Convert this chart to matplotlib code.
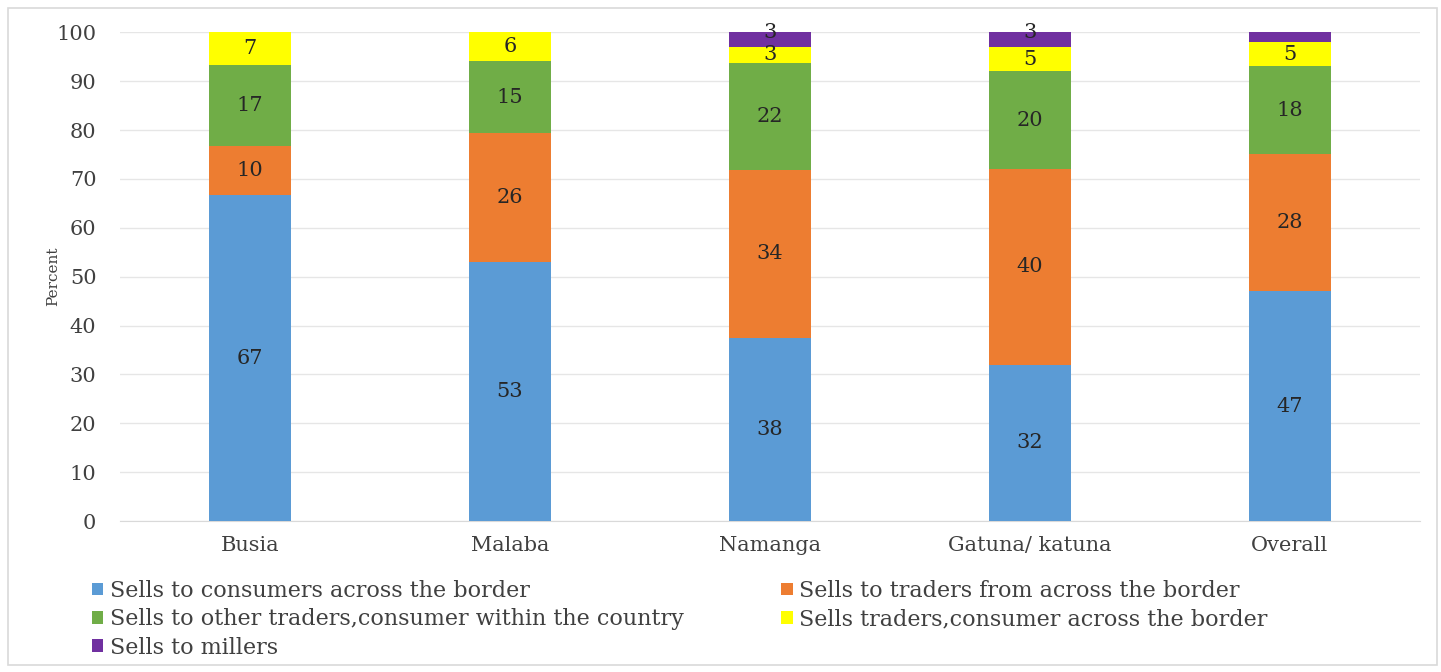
import matplotlib.pyplot as plt
import matplotlib.patches as mpatches
import numpy as np

plt.rcParams["font.family"] = ["DejaVu Serif"]

categories = ["Busia", "Malaba", "Namanga", "Gatuna/ katuna", "Overall"]

consumers_across = [66.7, 52.9, 37.5, 32, 47]
traders_from_across = [10, 26.5, 34.4, 40, 28]
within_country = [16.7, 14.7, 21.9, 20, 18]
traders_consumer_across = [6.7, 5.9, 3.1, 5, 5]
millers = [0, 0, 3.1, 3, 2]

series = [
    ("Sells to consumers across the border", consumers_across, "#5B9BD5"),
    ("Sells to traders from across the border", traders_from_across, "#ED7D31"),
    ("Sells to other traders,consumer within the country", within_country, "#70AD47"),
    ("Sells traders,consumer across the border", traders_consumer_across, "#FFFF00"),
    ("Sells to millers", millers, "#7030A0"),
]

fig = plt.figure(figsize=(14.41, 6.72), dpi=100)
ax = fig.add_axes([0.0833, 0.2247, 0.9021, 0.7273])

# light frame around the whole chart
fig.patches.append(mpatches.Rectangle((8 / 1441, 7 / 672), 1429 / 1441, 657 / 672,
                                      transform=fig.transFigure, fill=False,
                                      edgecolor="#d9d9d9", linewidth=1.2))

x = np.arange(len(categories))
bottom = np.zeros(len(categories))
handles = {}
for k, (name, vals, color) in enumerate(series):
    vals = np.array(vals, dtype=float)
    bars = ax.bar(x, vals, width=0.315, bottom=bottom, color=color, label=name, zorder=3)
    handles[name] = bars
    # the thin top segment gets its label nudged upward so it clears the one below
    lift = 5 if k == len(series) - 1 else 0
    for i, (b, v) in enumerate(zip(bottom, vals)):
        if v >= 2.5:
            ax.annotate(f"{v:.0f}", (x[i], b + v / 2), xytext=(0, lift),
                        textcoords="offset points", ha="center", va="center",
                        fontsize=15, color="#262626", zorder=4)
    bottom += vals

ax.set_xlim(-0.5, len(categories) - 0.5)
ax.set_ylim(0, 100)
ax.set_yticks(range(0, 101, 10))
ax.set_xticks(x)
ax.set_xticklabels(categories)
ax.tick_params(axis="both", length=0, labelsize=15, colors="#404040")
ax.tick_params(axis="y", pad=17)
ax.tick_params(axis="x", pad=11)
ax.yaxis.grid(True, color="#e6e6e6", linewidth=1, zorder=0)
for side in ["left", "right", "top"]:
    ax.spines[side].set_visible(False)
ax.spines["bottom"].set_color("#d9d9d9")
ax.set_ylabel("Percent", fontsize=11, color="#404040", labelpad=-3)

order = [series[0][0], series[2][0], series[4][0], series[1][0], series[3][0]]
fig.legend([handles[n] for n in order], order, loc="upper left",
           bbox_to_anchor=(0.050, 0.167), ncol=2, frameon=False, fontsize=16,
           handlelength=0.5, handleheight=0.5, handletextpad=0.3,
           columnspacing=4.4, labelspacing=0.29, labelcolor="#404040")

fig.savefig("out.png", dpi=100, facecolor="white")
